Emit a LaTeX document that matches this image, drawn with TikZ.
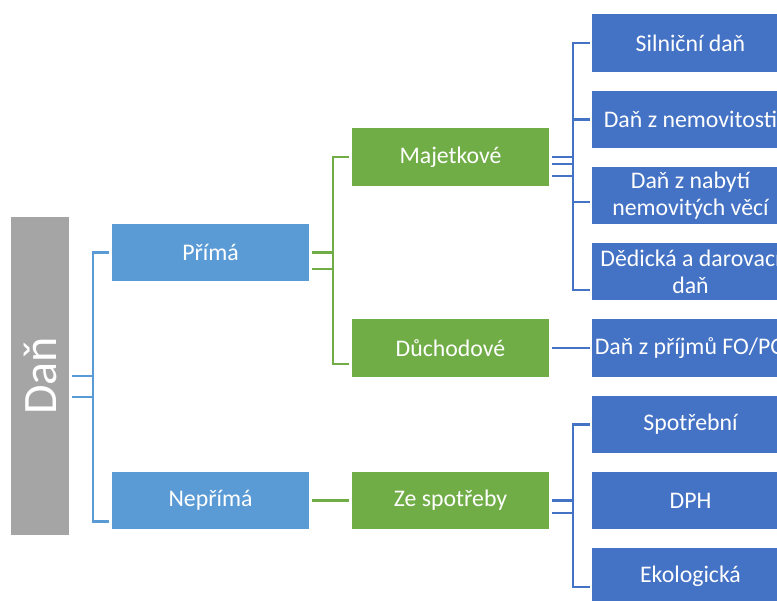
\documentclass[tikz,border=0pt]{standalone}
\usepackage{fontspec}
\setmainfont{Carlito}
\definecolor{cgray}{HTML}{A5A5A5}
\definecolor{clblue}{HTML}{5B9BD5}
\definecolor{cgreen}{HTML}{70AD47}
\definecolor{cdblue}{HTML}{4472C4}
\begin{document}
\begin{tikzpicture}[x=1pt,y=-1pt,
  box/.style={minimum width=197pt,minimum height=57.5pt,inner sep=0pt,text=white,align=center,
    font=\fontsize{23.8}{27}\selectfont},
  lb/.style={box,fill=clblue},
  gb/.style={box,fill=cgreen},
  db/.style={box,fill=cdblue},
  lbl/.style={draw=clblue,line width=2.3pt},
  grl/.style={draw=cgreen,line width=2.3pt},
  dbl/.style={draw=cdblue,line width=2.3pt}]
\useasboundingbox (0,0) rectangle (777,601);
\clip (0,0) rectangle (777,601);
% nodes
\node[fill=cgray,minimum width=58pt,minimum height=318pt,inner sep=0pt] (dan) at (40,376) {};
\node[rotate=90,text=white,font=\fontsize{48}{50}\selectfont] (dantext) at (dan.center) {Daň};
\node[lb] (prima) at (210.5,252.5) {Přímá};
\node[lb] (neprima) at (210.5,500.5) {Nepřímá};
\node[gb] (majet) at (450.5,157) {Majetkové};
\node[gb] (duch) at (450.5,348) {Důchodové};
\node[gb] (zespot) at (450.5,500.5) {Ze spotřeby};
\node[db] (silnicni) at (690.5,43) {Silniční daň};
\node[db] (nemov) at (690.5,119.5) {Daň z nemovitosti};
\node[db] (nabyti) at (690.5,195.5) {Daň z nabytí\\nemovitých věcí};
\node[db] (dedicka) at (690.5,271.5) {Dědická a darovací\\daň};
\node[db] (prijmu) at (690.5,348) {Daň z příjmů FO/PO};
\node[db] (spotrebni) at (690.5,424.5) {Spotřební};
\node[db] (dph) at (690.5,500.5) {DPH};
\node[db] (ekolog) at (690.5,576.5) {Ekologická};
% junction coordinates
\coordinate (j1) at (93,0);
\coordinate (j2) at (333,0);
\coordinate (j3) at (573,0);
% Daň -> Přímá / Nepřímá
\draw[lbl] ([xshift=3pt]dan.east) -- (j1 |- dan.east);
\draw[lbl] ([xshift=3pt,yshift=-21pt]dan.east) -- ([yshift=-21pt]j1 |- dan.east);
\draw[lbl] ([xshift=-3pt]prima.west) -- (j1 |- prima.west) -- ([yshift=-21pt]j1 |- neprima.west) -- ([xshift=-3pt,yshift=-21pt]neprima.west);
% Přímá -> Majetkové / Důchodové
\draw[grl] ([xshift=3pt]prima.east) -- (j2 |- prima.east);
\draw[grl] ([xshift=3pt,yshift=-16.5pt]prima.east) -- ([yshift=-16.5pt]j2 |- prima.east);
\draw[grl] ([xshift=-3pt]majet.west) -- (j2 |- majet.west) -- ([yshift=-16pt]j2 |- duch.west) -- ([xshift=-3pt,yshift=-16pt]duch.west);
% Nepřímá -> Ze spotřeby
\draw[grl] ([xshift=3pt]neprima.east) -- ([xshift=-3pt]zespot.west);
% Majetkové -> right column
\draw[dbl] ([xshift=3pt]majet.east) -- (j3 |- majet.east);
\draw[dbl] ([xshift=3pt,yshift=-7pt]majet.east) -- ([yshift=-7pt]j3 |- majet.east);
\draw[dbl] ([xshift=3pt,yshift=-19pt]majet.east) -- ([yshift=-19pt]j3 |- majet.east);
\draw[dbl] ([xshift=-2pt]silnicni.west) -- (j3 |- silnicni.west) -- ([yshift=-18.5pt]j3 |- dedicka.west) -- ([xshift=-2pt,yshift=-18.5pt]dedicka.west);
\draw[dbl] ([xshift=-2pt]nemov.west) -- (j3 |- nemov.west);
\draw[dbl] ([xshift=-2pt,yshift=-6.5pt]nabyti.west) -- ([yshift=-6.5pt]j3 |- nabyti.west);
% Důchodové -> příjmů
\draw[dbl] ([xshift=3pt]duch.east) -- ([xshift=-2pt]prijmu.west);
% Ze spotřeby -> right column
\draw[dbl] ([xshift=3pt]zespot.east) -- (j3 |- zespot.east);
\draw[dbl] ([xshift=3pt,yshift=-12.5pt]zespot.east) -- ([yshift=-12.5pt]j3 |- zespot.east);
\draw[dbl] ([xshift=-2pt]spotrebni.west) -- (j3 |- spotrebni.west) -- ([yshift=-10.5pt]j3 |- ekolog.west) -- ([xshift=-2pt,yshift=-10.5pt]ekolog.west);
\end{tikzpicture}
\end{document}
